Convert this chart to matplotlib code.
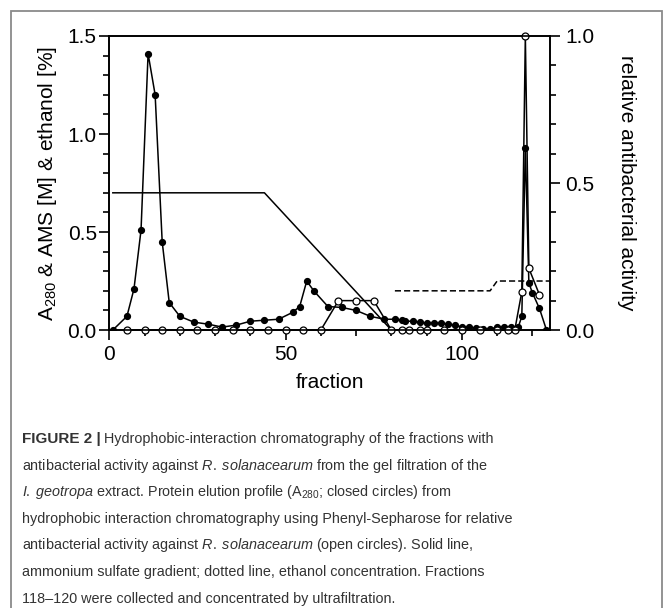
import matplotlib
matplotlib.use("Agg")
import matplotlib.pyplot as plt
import matplotlib.font_manager as fm
from matplotlib.patches import Rectangle
from matplotlib.ticker import MultipleLocator, FormatStrFormatter

# Protein elution profile (A280, closed circles) - left axis
a280_x = [1, 5, 7, 9, 11, 13, 15, 17, 20, 24, 28, 32, 36, 40, 44, 48, 52, 54, 56, 58,
          62, 66, 70, 74, 78, 81, 83, 84, 86, 88, 90, 92, 94, 96, 98, 100, 102, 104,
          106, 108, 110, 112, 114, 116, 117, 118, 119, 120, 122, 124]
a280_y = [0.0, 0.07, 0.21, 0.51, 1.41, 1.20, 0.45, 0.14, 0.07, 0.04, 0.03, 0.015, 0.025,
          0.045, 0.05, 0.055, 0.09, 0.12, 0.25, 0.20, 0.12, 0.115, 0.10, 0.07, 0.055,
          0.055, 0.05, 0.045, 0.045, 0.04, 0.035, 0.035, 0.035, 0.03, 0.025, 0.015,
          0.015, 0.01, 0.005, 0.005, 0.015, 0.015, 0.015, 0.015, 0.07, 0.93, 0.24,
          0.19, 0.11, 0.0]

# Relative antibacterial activity (open circles) - right axis
act_x = [5, 10, 15, 20, 25, 30, 35, 40, 45, 50, 55, 60, 65, 70, 75, 80, 83, 85, 88, 90,
         95, 100, 105, 110, 113, 115, 117, 118, 119, 122]
act_y = [0, 0, 0, 0, 0, 0, 0, 0, 0, 0, 0, 0, 0.10, 0.10, 0.10, 0, 0, 0, 0, 0,
         0, 0, 0, 0, 0, 0, 0.13, 1.0, 0.21, 0.12]

# Ammonium sulfate gradient (solid) and ethanol (dashed)
ams_x = [1, 44, 80]
ams_y = [0.7, 0.7, 0.0]
eth_x = [81, 108, 110, 125]
eth_y = [0.2, 0.2, 0.25, 0.25]

caption = [
    "antibacterial activity against $\\mathit{R.\\;solanacearum}$ from the gel filtration of the",
    "$\\mathit{I.\\;geotropa}$ extract. Protein elution profile (A$_{280}$; closed circles) from",
    "hydrophobic interaction chromatography using Phenyl-Sepharose for relative",
    "antibacterial activity against $\\mathit{R.\\;solanacearum}$ (open circles). Solid line,",
    "ammonium sulfate gradient; dotted line, ethanol concentration. Fractions",
    "118\u2013120 were collected and concentrated by ultrafiltration.",
]

names = {f.name for f in fm.fontManager.ttflist}
cap_font = "Liberation Sans Narrow" if "Liberation Sans Narrow" in names else "Liberation Sans"

plt.rcParams["font.family"] = ["Liberation Sans", "DejaVu Sans"]
plt.rcParams["mathtext.fontset"] = "custom"
plt.rcParams["mathtext.rm"] = "Liberation Sans"
plt.rcParams["mathtext.it"] = cap_font + ":italic"
plt.rcParams["mathtext.bf"] = cap_font + ":bold"

fig = plt.figure(figsize=(6.71, 6.08), dpi=100)
ax = fig.add_axes([0.1629, 0.4572, 0.6568, 0.4836])
ax2 = ax.twinx()

ax.plot(ams_x, ams_y, color="black", lw=1.1)
ax.plot(eth_x, eth_y, color="black", lw=1.1, ls=(0, (4, 2)))
ax.plot(a280_x, a280_y, color="black", lw=1.1, marker="o", ms=4.2,
        mfc="black", mec="black")
ax2.plot(act_x, act_y, color="black", lw=1.1, marker="o", ms=5,
         mfc="white", mec="black", mew=0.9, clip_on=False)

ax.set_xlim(0, 125)
ax.set_ylim(0, 1.5)
ax2.set_ylim(0, 1.0)

ax.xaxis.set_major_locator(MultipleLocator(50))
ax.xaxis.set_minor_locator(MultipleLocator(10))
ax.yaxis.set_major_locator(MultipleLocator(0.5))
ax.yaxis.set_minor_locator(MultipleLocator(0.1))
ax2.yaxis.set_major_locator(MultipleLocator(0.5))
ax2.yaxis.set_minor_locator(MultipleLocator(0.1))

ax.xaxis.set_major_formatter(FormatStrFormatter("%d"))
ax.yaxis.set_major_formatter(FormatStrFormatter("%.1f"))
ax2.yaxis.set_major_formatter(FormatStrFormatter("%.1f"))

for a in (ax, ax2):
    for s in a.spines.values():
        s.set_linewidth(1.2)
    a.tick_params(which="major", length=7, width=1.2, labelsize=15, direction="out")
    a.tick_params(which="minor", length=4.5, width=1.2, direction="out")
ax.tick_params(axis="y", pad=2)
ax.tick_params(axis="x", pad=4)
ax2.tick_params(axis="y", pad=4)

ax.set_xlabel("fraction", fontsize=15, labelpad=6)
ax.set_ylabel("A$_{280}$ & AMS [M] & ethanol [%]", fontsize=15, labelpad=6)
ax2.set_ylabel("relative antibacterial activity", fontsize=15, rotation=-90,
               labelpad=30)

# caption box
fig.patches.append(Rectangle((11 / 671, -0.1), 651 / 671, 0.1 + 1 - 11 / 608,
                             transform=fig.transFigure, fill=False,
                             edgecolor="#8a8a8a", lw=1.3, clip_on=False))

cap_color = "#333333"
cap_size = 10.4
x0 = 22 / 671
ys = [443 + 26.6 * i for i in range(7)]  # baselines in px
r = fig.canvas.get_renderer()
t = fig.text(x0, 1 - ys[0] / 608, "FIGURE 2 |", fontsize=cap_size + 0.6, family=cap_font,
             weight="bold", color=cap_color, va="baseline")
bb = t.get_window_extent(r)
x1 = bb.x1 / fig.bbox.width + 3 / 671
fig.text(x1, 1 - ys[0] / 608, "Hydrophobic-interaction chromatography of the fractions with",
         fontsize=cap_size, family=cap_font, color=cap_color, va="baseline")
for line, y in zip(caption, ys[1:]):
    fig.text(x0, 1 - y / 608, line, fontsize=cap_size, family=cap_font,
             color=cap_color, va="baseline")

fig.savefig("out.png", dpi=100)
